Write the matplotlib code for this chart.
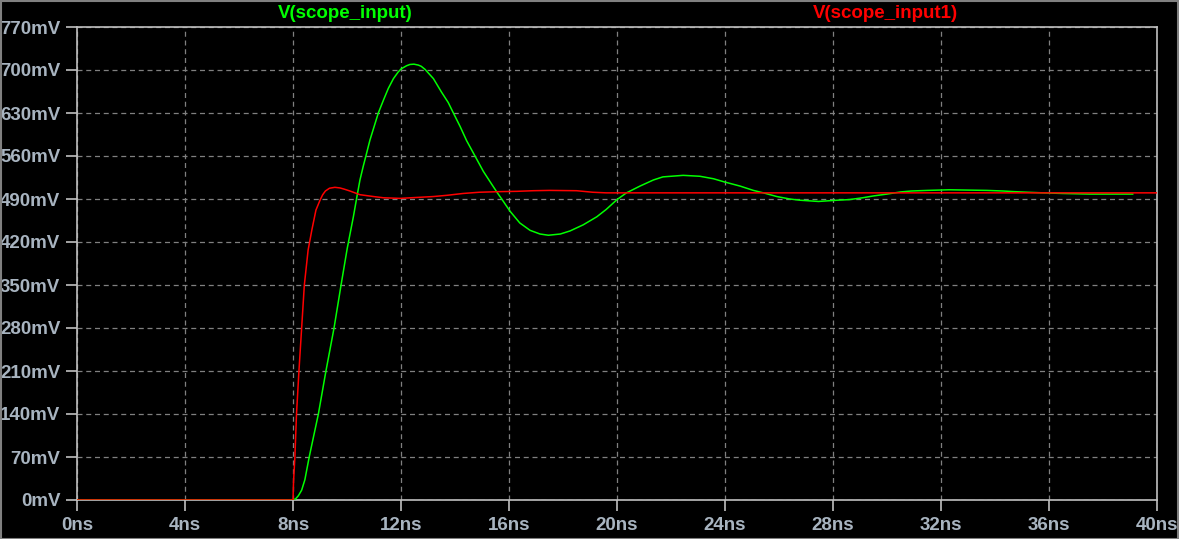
import matplotlib
matplotlib.use("Agg")
import matplotlib.pyplot as plt
from matplotlib.patches import Rectangle

# ---- data (time in ns, voltage in mV) ----
green_t = [0, 8.0, 8.1, 8.2, 8.32, 8.44, 8.6, 8.77, 8.94, 9.08, 9.22, 9.37, 9.52, 9.65,
           9.78, 10.01, 10.24, 10.36, 10.48, 10.6, 10.7, 10.85, 11.04, 11.16, 11.35,
           11.53, 11.72, 11.9, 12.01, 12.21, 12.33, 12.48, 12.64, 12.75, 12.89, 13.2,
           13.5, 13.75, 13.94, 14.19, 14.43, 14.74, 15.05, 15.36, 15.57, 15.73, 16.04,
           16.4, 16.78, 17.15, 17.46, 17.9, 18.26, 18.75, 19.25, 19.6, 20.0, 20.35,
           20.85, 21.35, 21.7, 22.45, 23.07, 23.57, 23.96, 24.56, 25.05, 25.42, 25.92,
           26.4, 26.78, 27.46, 28.14, 28.6, 29.1, 29.5, 30.0, 30.5, 30.9, 31.5, 32.3,
           33.0, 33.7, 34.3, 34.7, 35.2, 35.8, 36.5, 37.5, 38.5, 39.1]
green_v = [0, 0, 2, 7, 16, 33, 70, 105, 140, 175, 210, 245, 280, 315,
           350, 410, 462, 492, 521, 543, 560, 586, 613, 630, 651,
           670, 686, 697, 702, 707, 709, 709.5, 708, 706, 701, 686,
           664, 647, 630, 608, 585, 560, 535, 514, 500, 490, 470,
           451, 439, 433, 431, 433, 438, 448, 461, 473, 489, 500,
           511, 521, 526, 528.5, 527, 523, 518, 511, 504, 500, 494,
           490, 488, 486, 488, 489, 492, 495, 498, 501.5, 503, 504, 505,
           504.5, 504, 503, 502, 501, 500, 499, 498, 498, 498]

red_t = [0, 8.0, 8.02, 8.07, 8.13, 8.22, 8.32, 8.42, 8.56, 8.7, 8.85, 9.0, 9.1, 9.2,
         9.35, 9.55, 9.74, 9.9, 10.11, 10.48, 10.98, 11.35, 11.96, 12.58, 13.2,
         13.7, 14.3, 14.9, 15.67, 16.3, 16.9, 17.5, 18.5, 19.1, 19.6, 40.0]
red_v = [0, 0, 30, 70, 140, 210, 280, 350, 407, 440, 472, 488, 497, 503,
         507.5, 509, 508, 506, 503, 497, 494, 492, 491, 492.5, 494,
         496, 499, 501, 502, 502.5, 503.5, 504, 503.5, 501, 500, 500]

x_ticks = list(range(0, 41, 4))
x_labels = [f"{t}ns" for t in x_ticks]
y_ticks = list(range(0, 771, 70))
y_labels = [f"{v}mV" for v in y_ticks]

green_name = "V(scope_input)"
red_name = "V(scope_input1)"

# ---- style ----
FONT = "Liberation Sans"
TXT = "#a8b4c0"
FRAME = "#c0c0c0"
GRID = "#808080"
GREEN = "#00ff00"
RED = "#ff0000"

fig = plt.figure(figsize=(11.79, 5.39), dpi=100, facecolor="black")
ax = fig.add_axes([77 / 1179, 39 / 539, 1080 / 1179, 473 / 539])
ax.set_facecolor("black")

ax.plot(green_t, green_v, color=GREEN, lw=1.1, zorder=3)
ax.plot(red_t, red_v, color=RED, lw=1.1, zorder=4)

ax.set_xlim(0, 40)
ax.set_ylim(0, 770)
ax.set_xticks(x_ticks)
ax.set_xticklabels(x_labels)
ax.set_yticks(y_ticks)
ax.set_yticklabels(y_labels)

ax.grid(True, color=GRID, linestyle=(0, (4, 3)), lw=0.9)
for s in ax.spines.values():
    s.set_color(FRAME)
    s.set_linewidth(1.2)
ax.tick_params(axis="both", colors=FRAME, length=8, width=1.2, direction="out")
ax.tick_params(axis="x", pad=4)
ax.tick_params(axis="y", pad=4)
for lab in ax.get_xticklabels() + ax.get_yticklabels():
    lab.set_fontfamily(FONT)
    lab.set_fontweight("bold")
    lab.set_fontsize(13.5)
    lab.set_color(TXT)

fig.text(345 / 1179, 1 - 14 / 539, green_name, color=GREEN, fontfamily=FONT,
         fontweight="bold", fontsize=13.5, ha="center", va="center")
fig.text(885 / 1179, 1 - 14 / 539, red_name, color=RED, fontfamily=FONT,
         fontweight="bold", fontsize=13.5, ha="center", va="center")

# outer window border
fig.patches.append(Rectangle((0.5 / 1179, 0.5 / 539), 1 - 1.5 / 1179, 1 - 1.5 / 539,
                             transform=fig.transFigure, fill=False,
                             edgecolor="#808080", lw=1.5))

fig.savefig("out.png", dpi=100, facecolor="black")
